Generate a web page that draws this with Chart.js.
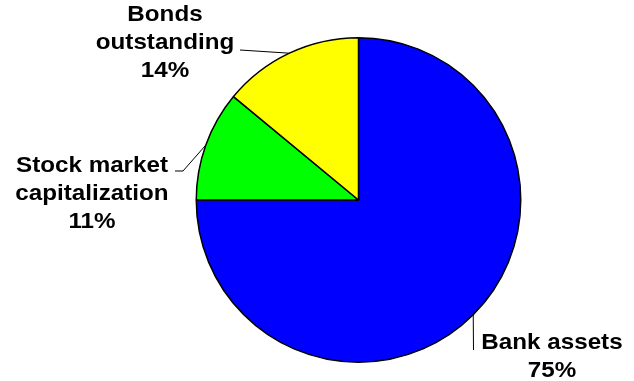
<!DOCTYPE html>
<html>
<head>
<meta charset="utf-8">
<script src="https://cdn.jsdelivr.net/npm/chart.js@4/dist/chart.umd.min.js"></script>
<style>
    html, body { margin: 0; padding: 0; background: #fff; }
    #wrap { width: 634px; height: 381px; }
</style>
</head>
<body>
<div id="wrap"><canvas id="pieChart"></canvas></div>
<script>
// Shares of financial assets (%)
const categories = ['Bank assets', 'Stock market capitalization', 'Bonds outstanding'];
const labelLines = [['Bank assets'], ['Stock market', 'capitalization'], ['Bonds', 'outstanding']];
const shares = [75, 11, 14];
const sliceColors = ['#0000FF', '#00FF00', '#FFFF00'];

// Where each label block sits and where its leader line ends
const LABEL_LAYOUT = [
    { x: 552, y: 349, elbow: null, end: 'below' },
    { x: 92, y: 172, elbow: [183, 171], end: [175, 171] },
    { x: 165, y: 21, elbow: null, end: [240, 50] }
];

const FONT = 'bold 22px "Liberation Sans", Arial, sans-serif';
const STRETCH = 1.1;
const LINE_H = 28;

function drawStretched(ctx, text, x, y) {
    ctx.save();
    ctx.translate(x, y);
    ctx.scale(STRETCH, 1);
    ctx.fillText(text, 0, 0);
    ctx.restore();
}

// Labels with leader lines out of each slice
const sliceLabels = {
    id: 'sliceLabels',
    afterDatasetsDraw(chart) {
        const ctx = chart.ctx;
        const arcs = chart.getDatasetMeta(0).data;
        ctx.save();
        ctx.font = FONT;
        ctx.fillStyle = '#000';
        ctx.textAlign = 'center';
        ctx.textBaseline = 'alphabetic';
        ctx.strokeStyle = '#000';
        ctx.lineWidth = 1;

        arcs.forEach((arc, i) => {
            const mid = (arc.startAngle + arc.endAngle) / 2;
            const ex = arc.x + Math.cos(mid) * arc.outerRadius;
            const ey = arc.y + Math.sin(mid) * arc.outerRadius;
            const lay = LABEL_LAYOUT[i];

            ctx.beginPath();
            ctx.moveTo(ex, ey);
            if (lay.end === 'below') {
                ctx.lineTo(Math.round(ex) + 0.5, lay.y + 1);
            } else {
                if (lay.elbow) ctx.lineTo(lay.elbow[0], lay.elbow[1]);
                ctx.lineTo(lay.end[0], lay.end[1]);
            }
            ctx.stroke();

            const lines = labelLines[i].concat([shares[i] + '%']);
            lines.forEach((t, k) => drawStretched(ctx, t, lay.x, lay.y + k * LINE_H));
        });
        ctx.restore();
    }
};

new Chart(document.getElementById('pieChart'), {
    type: 'pie',
    data: {
        labels: categories,
        datasets: [{
            data: shares,
            backgroundColor: sliceColors,
            borderColor: '#000',
            borderWidth: 1.5
        }]
    },
    options: {
        responsive: true,
        maintainAspectRatio: false,
        animation: false,
        layout: {
            padding: { left: 195, right: 112, top: 37, bottom: 18 }
        },
        plugins: {
            legend: { display: false },
            tooltip: { enabled: false }
        }
    },
    plugins: [sliceLabels]
});
</script>
</body>
</html>
